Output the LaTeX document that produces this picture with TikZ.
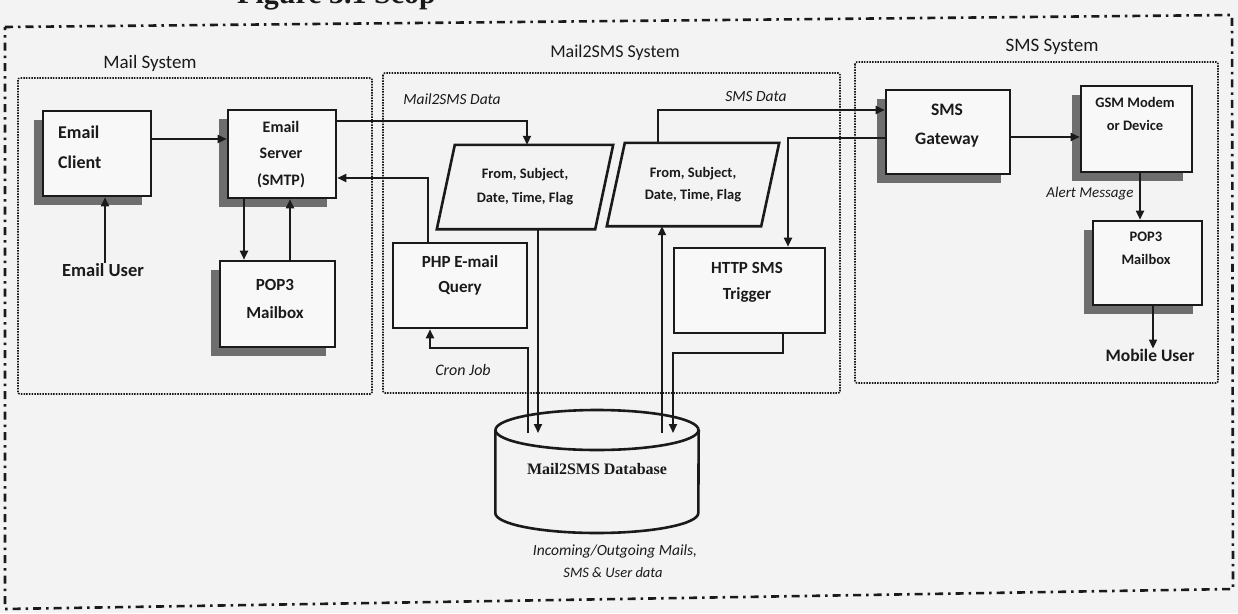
\documentclass[tikz,border=0pt]{standalone}
\usepackage{fontspec}
\setmainfont{Carlito}
\newfontfamily\timesf{Liberation Serif}
\usetikzlibrary{arrows.meta,shadows,calc}
\definecolor{ink}{HTML}{1A1A1A}
\definecolor{paper}{HTML}{F3F3F3}
\definecolor{shade}{HTML}{6E6E6E}
\definecolor{boxfill}{HTML}{F8F8F8}
\newcommand{\fs}[2]{\fontsize{#1}{#2}\selectfont}
\begin{document}
\begin{tikzpicture}[x=1pt,y=-1pt,
  box/.style={draw=ink, line width=2.6pt, fill=boxfill, inner sep=0pt},
  shbox/.style={box, drop shadow={shadow xshift=-9pt, shadow yshift=-9pt, fill=shade, opacity=1}},
  txt/.style={text=ink, align=center, inner sep=0pt},
  conn/.style={draw=ink, line width=1.8pt},
  arr/.style={conn, -{Triangle[length=9pt,width=8pt]}},
  lab/.style={text=ink, inner sep=0pt, font=\itshape\fs{15.5}{18}},
  syslab/.style={text=ink, inner sep=0pt},
  sysbox/.style={draw=ink, line width=1.6pt, dash pattern=on 1.5pt off 1.2pt, rounded corners=2pt},
  frame/.style={draw=ink, line width=2.6pt, dash pattern=on 8pt off 5pt on 2.5pt off 5pt},
  para/.style={draw=ink, line width=2.6pt, line join=miter}
]
\useasboundingbox[fill=paper] (0,0) rectangle (1238,613);

% partially visible heading
\node[anchor=base west, inner sep=0pt, text=ink, font=\timesf\bfseries\fs{30}{30}] (title) at (237,4) {Figure 3.1 Scop};

% outer frame
\draw[frame] (5,27) -- (1232,15) -- (1233,589) -- (5,609) -- cycle;

% system boxes
\draw[sysbox] (18,78) rectangle (372,394);
\draw[sysbox] (383,73) rectangle (840,393);
\draw[sysbox] (855,62) rectangle (1218,383);
\node[syslab, font=\fs{19}{22}] (mailsysL) at (150,63) {Mail System};
\node[syslab, font=\fs{18}{22}] (m2ssysL) at (615,53) {Mail2SMS System};
\node[syslab, font=\fs{19}{22}] (smssysL) at (1052,47) {SMS System};

% boxes
\node[shbox, minimum width=108, minimum height=85] (client) at (97,153.5) {};
\node[txt, anchor=west, align=left, font=\bfseries\fs{18}{30}] (clientT) at (58,147) {Email\\Client};
\node[shbox, minimum width=108, minimum height=88] (server) at (282,154) {};
\node[txt, font=\bfseries\fs{16}{26.5}] (serverT) at (281,154.5) {Email\\Server\\(SMTP)};
\node[shbox, minimum width=115, minimum height=86] (pop3L) at (277.5,304) {};
\node[txt, font=\bfseries\fs{17}{28}] (pop3LT) at (275,299) {POP3\\Mailbox};
\node[box, minimum width=134, minimum height=85] (php) at (460,285.5) {};
\node[txt, font=\bfseries\fs{17}{25}] (phpT) at (460,275.5) {PHP E-mail\\Query};
\node[box, minimum width=151, minimum height=85] (http) at (749.5,290.5) {};
\node[txt, font=\bfseries\fs{17}{26}] (httpT) at (747,282) {HTTP SMS\\Trigger};
\node[shbox, minimum width=124, minimum height=84] (gateway) at (948,132) {};
\node[txt, font=\bfseries\fs{17.5}{29}] (gatewayT) at (947,125.5) {SMS\\Gateway};
\node[shbox, minimum width=111, minimum height=86] (gsm) at (1136.5,129) {};
\node[txt, font=\bfseries\fs{14.5}{23}] (gsmT) at (1135,113.5) {GSM Modem\\or Device};
\node[shbox, minimum width=109, minimum height=84] (pop3R) at (1147.5,263) {};
\node[txt, font=\bfseries\fs{14.5}{23}] (pop3RT) at (1146,248.5) {POP3\\Mailbox};

% parallelograms
\node[txt, minimum width=176, minimum height=84, font=\bfseries\fs{14.5}{24}] (par1) at (525,187) {From, Subject,\\Date, Time, Flag};
\draw[para] (par1.south west) -- ([xshift=-18pt]par1.south east) -- (par1.north east) -- ([xshift=18pt]par1.north west) -- cycle;
\node[txt, minimum width=172, minimum height=83, font=\bfseries\fs{14.5}{22}] (par2) at (693,184.5) {From, Subject,\\Date, Time, Flag};
\draw[para] (par2.south west) -- ([xshift=-18pt]par2.south east) -- (par2.north east) -- ([xshift=18pt]par2.north west) -- cycle;

% database
\node[inner sep=0pt, minimum width=203, minimum height=123] (db) at (597,471.5) {};
\coordinate (dbtop) at (597,433);
\draw[line width=2.6pt, draw=ink] (597,430) ellipse [x radius=101.5pt, y radius=20pt];
\draw[line width=2.6pt, draw=ink] (db.west |- 0,430) -- (db.west |- 0,513) arc[start angle=180, end angle=360, x radius=101.5pt, y radius=20pt] -- (db.east |- 0,430);
\node[txt, font=\timesf\bfseries\fs{16}{18}] (dbT) at (597,469) {Mail2SMS Database};
\node[lab] (dbcap1) at (615,551) {Incoming/Outgoing Mails,};
\node[lab, font=\itshape\fs{14.5}{18}] (dbcap2) at (613,573) {SMS \& User data};

% users
\node[txt, font=\bfseries\fs{18.5}{22}] (user) at (103,270) {Email User};
\node[txt, font=\bfseries\fs{17.5}{22}] (mobile) at (1150,355) {Mobile User};

% connectors
\draw[arr] (user.north -| 105,0) -- (client.south -| 105,0);
\draw[arr] (client.east |- 0,139) -- (server.west |- 0,139);
\draw[arr] (server.south -| 244,0) -- (pop3L.north -| 244,0);
\draw[arr] (pop3L.north -| 290,0) -- (server.south -| 290,0);
\draw[arr] (server.east |- 0,121) -- (527,121) -- (par1.north -| 527,0);
\draw[arr] (php.north -| 428,0) -- (428,178) -- (server.east |- 0,178);
\draw[arr] (par1.south -| 538,0) -- (dbtop -| 538,0);
\draw[arr] (dbtop -| 528,0) -- (528,348) -- (430,348) -- (php.south -| 430,0);
\draw[arr] (dbtop -| 662,0) -- (par2.south -| 662,0);
\draw[arr] (http.south -| 783,0) -- (783,353) -- (673,353) -- (dbtop -| 673,0);
\draw[arr] (par2.north -| 658,0) -- (658,110) -- (gateway.west |- 0,110);
\draw[arr] (gateway.west |- 0,138) -- (788,138) -- (http.north -| 788,0);
\draw[arr] (gateway.east |- 0,137) -- (gsm.west |- 0,137);
\draw[arr] (gsm.south -| 1140,0) -- (pop3R.north -| 1140,0);
\draw[arr] (pop3R.south -| 1153,0) -- (mobile.north -| 1153,0);

% connector labels
\node[lab] (m2sdata) at (452,99) {Mail2SMS Data};
\node[lab] (smsdata) at (756,97) {SMS Data};
\node[lab, font=\itshape\fs{16}{18}] (cron) at (463,370) {Cron Job};
\node[lab, font=\itshape\fs{15}{18}] (alert) at (1090,194) {Alert Message};
\end{tikzpicture}
\end{document}
